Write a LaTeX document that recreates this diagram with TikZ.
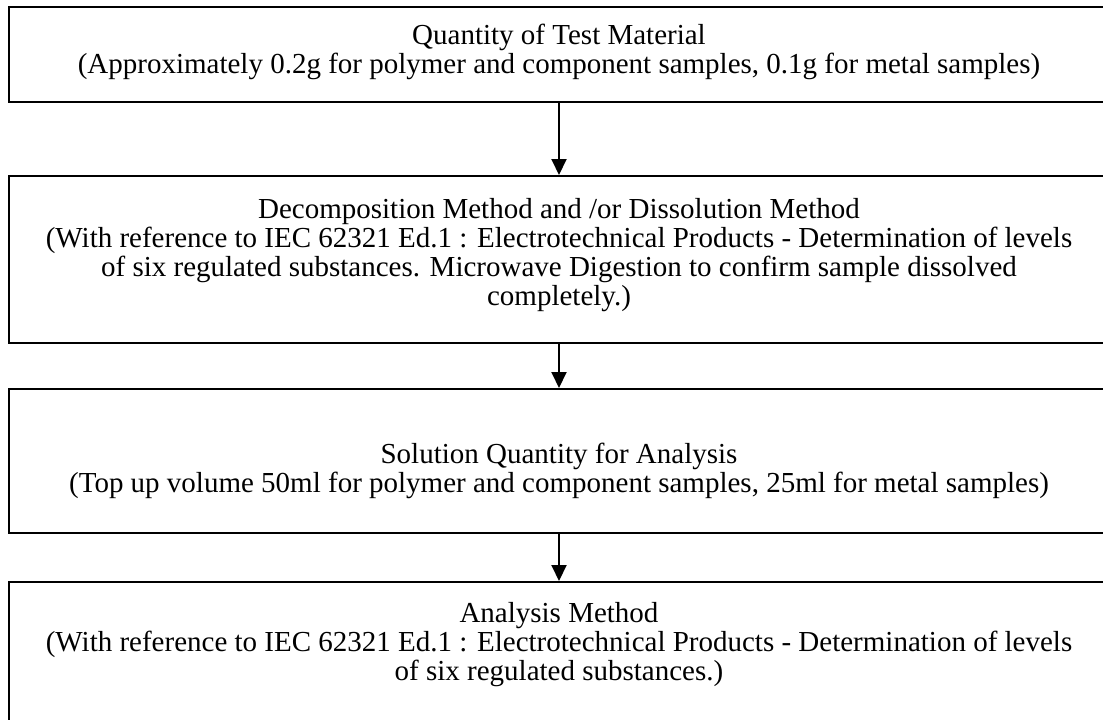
\documentclass[tikz,border=0pt]{standalone}
\usepackage{fontspec}
\setmainfont{Liberation Serif}
\usetikzlibrary{arrows.meta}

\tikzset{
  box/.style={draw, line width=2pt, minimum width=1100pt, inner sep=0pt},
  txt/.style={align=center, inner sep=0pt, font=\fontsize{29}{29}\selectfont},
  flow/.style={line width=2pt, -{Triangle[width=15pt,length=16pt]}}
}

\begin{document}
\begin{tikzpicture}[x=1pt,y=-1pt]

\useasboundingbox (0,0) rectangle (1103,720);
\clip (0,0) rectangle (1103,720);

\draw (559,54.5) node(ONE)[box,minimum height=95pt]{};
\draw (559,259.5) node(TWO)[box,minimum height=167pt]{};
\draw (559,461) node(THREE)[box,minimum height=144pt]{};
\draw (559,662) node(FOUR)[box,minimum height=160pt]{};

\draw (559,52) node(QTY)[txt]{Quantity of Test Material\\
(Approximately 0.2g for polymer and component samples, 0.1g for metal samples)};
\draw (559,255) node(DECOMP)[txt]{Decomposition Method and /or Dissolution Method\\
(With reference to IEC 62321 Ed.1 : Electrotechnical Products - Determination of levels\\
of six regulated substances. Microwave Digestion to confirm sample dissolved\\
completely.)};
\draw (559,471) node(SOLN)[txt]{Solution Quantity for Analysis\\
(Top up volume 50ml for polymer and component samples, 25ml for metal samples)};
\draw (559,644.5) node(ANALYSIS)[txt]{Analysis Method\\
(With reference to IEC 62321 Ed.1 : Electrotechnical Products - Determination of levels\\
of six regulated substances.)};

\draw[flow] (ONE) -- (TWO);
\draw[flow] (TWO) -- (THREE);
\draw[flow] (THREE) -- (FOUR);

\end{tikzpicture}
\end{document}
